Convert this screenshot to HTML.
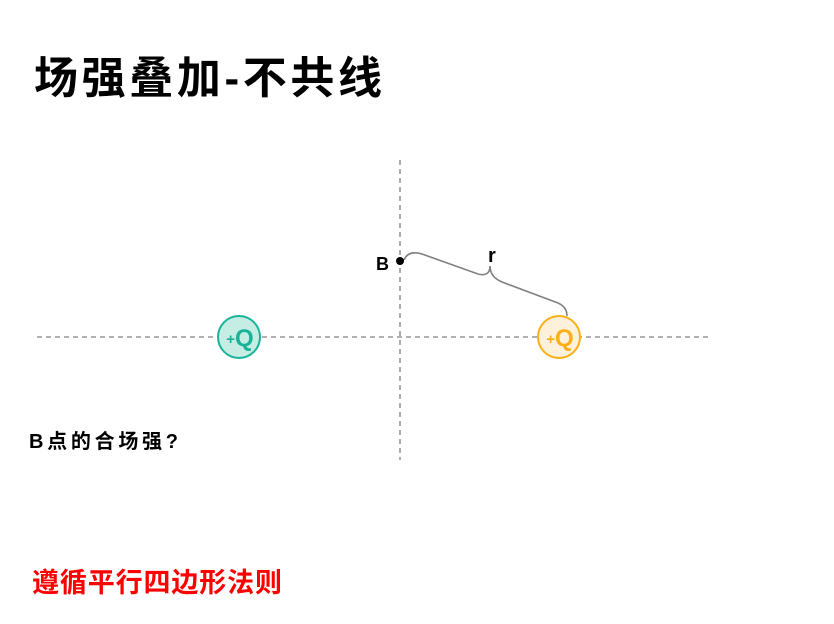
<!DOCTYPE html>
<html><head><meta charset="utf-8"><style>
html,body{margin:0;padding:0;background:#fff;width:834px;height:624px;overflow:hidden}
svg{display:block}
</style></head><body>
<svg width="834" height="624" viewBox="0 0 834 624" xmlns="http://www.w3.org/2000/svg">
<rect width="834" height="624" fill="#fff"/>
<text x="34" y="93" font-family="Liberation Sans, Noto Sans CJK SC, sans-serif" font-size="44" font-weight="bold" fill="#000" textLength="348" lengthAdjust="spacing">场强叠加-不共线</text>
<line x1="400" y1="160" x2="400" y2="460" stroke="#808080" stroke-width="1.3" stroke-dasharray="5,4"/>
<line x1="37" y1="337" x2="710" y2="337" stroke="#808080" stroke-width="1.3" stroke-dasharray="5,4"/>
<path d="M404,260 Q408,250 422,254 L478,274 Q490,277 490,266 Q490,277 502,282 L558,303 Q567,307 567,316" fill="none" stroke="#808080" stroke-width="1.6"/>
<circle cx="400" cy="261" r="4" fill="#000"/>
<text x="376" y="270" font-family="Liberation Sans, sans-serif" font-size="18" font-weight="bold" fill="#000">B</text>
<text x="488" y="262" font-family="Liberation Sans, sans-serif" font-size="20" font-weight="bold" fill="#000">r</text>
<circle cx="239" cy="337" r="21" fill="#c6ede3" stroke="#1ab39a" stroke-width="2"/>
<text x="240" y="346" text-anchor="middle" font-family="Liberation Sans, sans-serif" font-size="24" font-weight="bold" fill="#1ab39a"><tspan font-size="15" dy="-2">+</tspan><tspan dy="2">Q</tspan></text>
<circle cx="559" cy="337" r="21" fill="#fdf1dc" stroke="#fbb01a" stroke-width="2"/>
<text x="560" y="346" text-anchor="middle" font-family="Liberation Sans, sans-serif" font-size="24" font-weight="bold" fill="#fbb01a"><tspan font-size="15" dy="-2">+</tspan><tspan dy="2">Q</tspan></text>
<text x="29" y="448" font-family="Liberation Sans, Noto Sans CJK SC, sans-serif" font-size="20" font-weight="bold" fill="#000" textLength="149" lengthAdjust="spacing">B点的合场强?</text>
<text x="32" y="592" font-family="Liberation Sans, Noto Sans CJK SC, sans-serif" font-size="27" font-weight="bold" fill="#ff0000" textLength="250" lengthAdjust="spacing">遵循平行四边形法则</text>
</svg>
</body></html>
